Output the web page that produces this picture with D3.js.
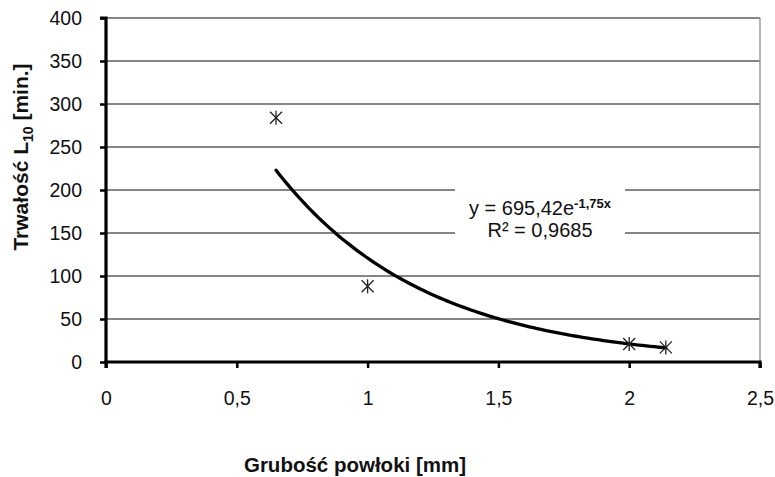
<!DOCTYPE html>
<html>
<head>
<meta charset="utf-8">
<script src="https://cdn.jsdelivr.net/npm/d3@7"></script>
<style>
  html, body { margin: 0; padding: 0; background: #fff; }
  svg { display: block; font-family: "Liberation Sans", Arial, sans-serif; }
</style>
</head>
<body>
<svg id="chart" width="775" height="477"></svg>
<script>
// Measured coating thickness [mm] and L10 durability [min.]
const thickness = [0.65, 1.0, 2.0, 2.14];
const durability = [284, 88, 21, 17];

// Exponential trend y = a * e^(b x), as given in the label
const trendA = 695.42;
const trendB = -1.75;
const trendLabel = ["y = 695,42e", "-1,75x"];
const r2Label = "R² = 0,9685";

// Axis ticks
const xTicks = [0, 0.5, 1, 1.5, 2, 2.5];
const yTicks = [0, 50, 100, 150, 200, 250, 300, 350, 400];
const xTitle = "Grubość powłoki [mm]";
const yTitle = ["Trwałość L", "10", " [min.]"];

const svg = d3.select("#chart");
const fmt = v => String(v).replace(".", ",");

const x = d3.scaleLinear().domain([0, 2.5]).range([106, 760]);
const y = d3.scaleLinear().domain([0, 400]).range([362, 18]);

// Horizontal gridlines
svg.append("g").selectAll("line")
  .data(yTicks.filter(v => v > 0))
  .join("line")
  .attr("x1", x(0)).attr("x2", x(2.5))
  .attr("y1", d => y(d)).attr("y2", d => y(d))
  .attr("stroke", "#5e5e5e").attr("stroke-width", 1.3);

// Right border of plot area
svg.append("line")
  .attr("x1", x(2.5)).attr("x2", x(2.5))
  .attr("y1", y(400)).attr("y2", y(0))
  .attr("stroke", "#9a9a9a").attr("stroke-width", 1.5);

// Axes
const yAxis = d3.axisLeft(y).tickValues(yTicks).tickSize(6).tickPadding(18).tickFormat(fmt);
const xAxis = d3.axisBottom(x).tickValues(xTicks).tickSize(6).tickPadding(22).tickFormat(fmt);

const gy = svg.append("g").attr("transform", `translate(${x(0)},0)`).call(yAxis);
const gx = svg.append("g").attr("transform", `translate(0,${y(0)})`).call(xAxis);

[gy, gx].forEach(g => {
  g.select(".domain").attr("stroke", "#000").attr("stroke-width", 3.2);
  g.selectAll(".tick line").attr("stroke", "#000").attr("stroke-width", 2.5);
  g.selectAll(".tick text")
    .attr("fill", "#111")
    .style("font-size", "19.5px")
    .style("font-family", "'Liberation Sans', Arial, sans-serif");
});
gy.selectAll(".tick text").attr("x", -24).attr("dy", "0.35em");
gx.selectAll(".tick text").attr("y", 29).attr("dy", "0.71em");
gy.select(".domain").attr("d", `M-6,${y(400)}H0V${y(0)}`);
gx.select(".domain").attr("d", `M${x(0)},${6}V0H${x(2.5)}V6`);

// Trend curve over the measured range
const xs = d3.range(0, 101).map(i => thickness[0] + (thickness[thickness.length - 1] - thickness[0]) * i / 100);
svg.append("path")
  .datum(xs)
  .attr("fill", "none")
  .attr("stroke", "#000")
  .attr("stroke-width", 3.3)
  .attr("stroke-linecap", "round")
  .attr("d", d3.line().x(d => x(d)).y(d => y(trendA * Math.exp(trendB * d))));

// Star markers for the measurements
const pts = svg.append("g").selectAll("g")
  .data(thickness.map((t, i) => [t, durability[i]]))
  .join("g")
  .attr("transform", d => `translate(${x(d[0])},${y(d[1])})`)
  .attr("stroke", "#222").attr("stroke-width", 1.3);
pts.append("line").attr("x1", 0).attr("x2", 0).attr("y1", -7).attr("y2", 7);
pts.append("line").attr("x1", -6).attr("x2", 6).attr("y1", -6).attr("y2", 6);
pts.append("line").attr("x1", -6).attr("x2", 6).attr("y1", 6).attr("y2", -6);

// Trend equation label on a white patch
const lx = 540;
svg.append("rect")
  .attr("x", 455).attr("y", 186).attr("width", 170).attr("height", 62)
  .attr("fill", "#fff");
const eq = svg.append("text")
  .attr("x", lx).attr("y", 215)
  .attr("text-anchor", "middle")
  .attr("fill", "#111")
  .style("font-size", "20px");
eq.append("tspan").text(trendLabel[0]);
eq.append("tspan").attr("dy", -7).style("font-size", "13px").style("font-weight", "bold").text(trendLabel[1]);
svg.append("text")
  .attr("x", lx).attr("y", 237)
  .attr("text-anchor", "middle")
  .attr("fill", "#111")
  .style("font-size", "20px")
  .text(r2Label);

// Axis titles
svg.append("text")
  .attr("x", 355).attr("y", 472)
  .attr("text-anchor", "middle")
  .attr("fill", "#111")
  .style("font-size", "20.5px")
  .style("font-weight", "bold")
  .text(xTitle);

const yt = svg.append("text")
  .attr("transform", "translate(28,157) rotate(-90)")
  .attr("text-anchor", "middle")
  .attr("fill", "#111")
  .style("font-size", "21px")
  .style("font-weight", "bold");
yt.append("tspan").text(yTitle[0]);
yt.append("tspan").attr("dy", 5).style("font-size", "14px").text(yTitle[1]);
yt.append("tspan").attr("dy", -5).text(yTitle[2]);
</script>
</body>
</html>
